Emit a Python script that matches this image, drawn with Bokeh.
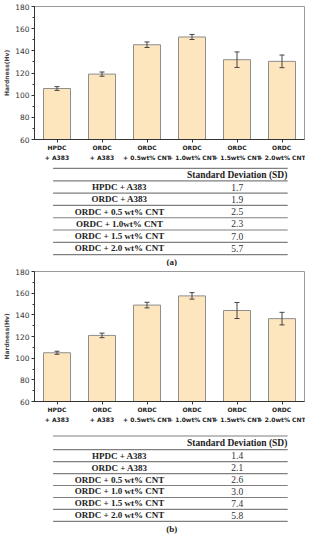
from bokeh.plotting import figure
from bokeh.models import Range1d, FactorRange, Whisker, TeeHead, ColumnDataSource, SingleIntervalTicker
from bokeh.layouts import column
from bokeh.core.properties import value
from bokeh.embed import file_html
from bokeh.resources import INLINE

# ---------------- data ----------------
categories = ["HPDC\n+ A383", "ORDC\n+ A383", "ORDC\n+ 0.5wt% CNT",
              "ORDC\n+ 1.0wt% CNT", "ORDC\n+ 1.5wt% CNT", "ORDC\n+ 2.0wt% CNT"]
hardness_a = [106.0, 119.0, 145.5, 152.5, 132.0, 130.5]
sd_a = [1.7, 1.9, 2.5, 2.3, 7.0, 5.7]
hardness_b = [105.0, 121.0, 149.0, 157.5, 144.0, 136.5]
sd_b = [1.4, 2.1, 2.6, 3.0, 7.4, 5.8]
table_labels_a = ["HPDC + A383", "ORDC + A383", "ORDC + 0.5 wt% CNT",
                  "ORDC + 1.0wt% CNT", "ORDC + 1.5 wt% CNT", "ORDC + 2.0 wt% CNT"]
table_labels_b = ["HPDC + A383", "ORDC + A383", "ORDC + 0.5 wt% CNT",
                  "ORDC + 1.0 wt% CNT", "ORDC + 1.5 wt% CNT", "ORDC + 2.0 wt% CNT"]
table_header = "Standard Deviation (SD)"
y_label = "Hardness(Hv)"

W = 305
SANS = "DejaVu Sans"
SERIF = "Liberation Serif"


def bar_fig(h, top_border, bottom_border, vals, sds):
    src = ColumnDataSource(dict(
        cat=categories, val=vals,
        up=[v + s for v, s in zip(vals, sds)],
        lo=[v - s for v, s in zip(vals, sds)]))
    p = figure(width=W, height=h, x_range=FactorRange(*categories),
               y_range=Range1d(60, 180), output_backend="svg",
               toolbar_location=None, min_border_left=32, min_border_right=1,
               min_border_top=top_border, min_border_bottom=bottom_border)
    p.vbar(x="cat", top="val", bottom=60, width=0.6, source=src,
           fill_color="#FDE5BE", line_color="#8e8e8e", line_width=1)
    p.add_layout(Whisker(base="cat", upper="up", lower="lo", source=src,
                         line_color="#444444", line_width=1, level="overlay",
                         upper_head=TeeHead(size=5, line_color="#444444"),
                         lower_head=TeeHead(size=5, line_color="#444444")))
    p.xgrid.visible = False
    p.ygrid.visible = False
    p.outline_line_color = "#9a9a9a"
    p.yaxis.ticker = SingleIntervalTicker(interval=20, num_minor_ticks=2)
    p.yaxis.axis_label = y_label
    p.yaxis.axis_label_text_font = SANS
    p.yaxis.axis_label_text_font_style = "bold"
    p.yaxis.axis_label_text_font_size = "6px"
    p.yaxis.axis_label_standoff = 2
    p.yaxis.major_label_text_font = SANS
    p.yaxis.major_label_text_font_size = "7.5px"
    p.yaxis.major_label_text_color = "#333333"
    p.yaxis.major_label_standoff = 2
    p.yaxis.major_tick_out = 3
    p.yaxis.major_tick_in = 0
    p.yaxis.minor_tick_out = 2
    p.yaxis.minor_tick_in = 0
    p.axis.axis_line_color = "#333333"
    p.axis.major_tick_line_color = "#333333"
    p.yaxis.minor_tick_line_color = "#333333"
    p.xaxis.major_tick_out = 3
    p.xaxis.major_tick_in = 0
    p.xaxis.major_label_standoff = 1
    p.xaxis.major_label_text_font = SANS
    p.xaxis.major_label_text_font_style = "bold"
    p.xaxis.major_label_text_font_size = "6px"
    p.xaxis.major_label_text_line_height = 1.5
    p.xaxis.major_label_text_color = "#222222"
    return p


def table_fig(h, top, hdr_line, row_h, cap_y, labels, sds, caption):
    p = figure(width=W, height=h, x_range=Range1d(0, W), y_range=Range1d(h, 0),
               output_backend="svg", toolbar_location=None, min_border=0,
               x_axis_location=None, y_axis_location=None)
    p.outline_line_color = None
    p.grid.visible = False
    n = len(labels)
    line_ys = [top, hdr_line] + [hdr_line + (i + 1) * row_h for i in range(n)]
    p.segment(x0=[21] * len(line_ys), x1=[286] * len(line_ys), y0=line_ys, y1=line_ys,
              line_color="#7f7f7f", line_width=1.2)
    row_ys = [hdr_line + (i + 0.5) * row_h for i in range(n)]
    p.text(x=[96] * n, y=row_ys, text=labels, text_font=value(SERIF),
           text_font_style="bold", text_font_size="9px", text_color="#222222",
           text_align="center", text_baseline="middle")
    p.text(x=[229] * n, y=row_ys, text=["%.1f" % s for s in sds], text_font=value(SERIF),
           text_font_size="9.5px", text_color="#333333",
           text_align="center", text_baseline="middle")
    p.text(x=[229], y=[(top + hdr_line) / 2 + 0.5], text=[table_header], text_font=value(SERIF),
           text_font_style="bold", text_font_size="9.5px", text_color="#222222",
           text_align="center", text_baseline="middle")
    p.text(x=[155], y=[cap_y], text=[caption], text_font=value(SERIF),
           text_font_style="bold", text_font_size="9px", text_color="#222222",
           text_align="center", text_baseline="middle")
    return p


fig_a = bar_fig(164, 6, 23, hardness_a, sd_a)
tab_a = table_fig(102, 3.8, 16.4, 12.28, 97.9, table_labels_a, sd_a, "(a)")
fig_b = bar_fig(160, 5, 22, hardness_b, sd_b)
tab_b = table_fig(108, 9.5, 23.1, 11.97, 102.7, table_labels_b, sd_b, "(b)")

layout = column(fig_a, tab_a, fig_b, tab_b, spacing=0)
open("out.html", "w").write(file_html(layout, INLINE))
